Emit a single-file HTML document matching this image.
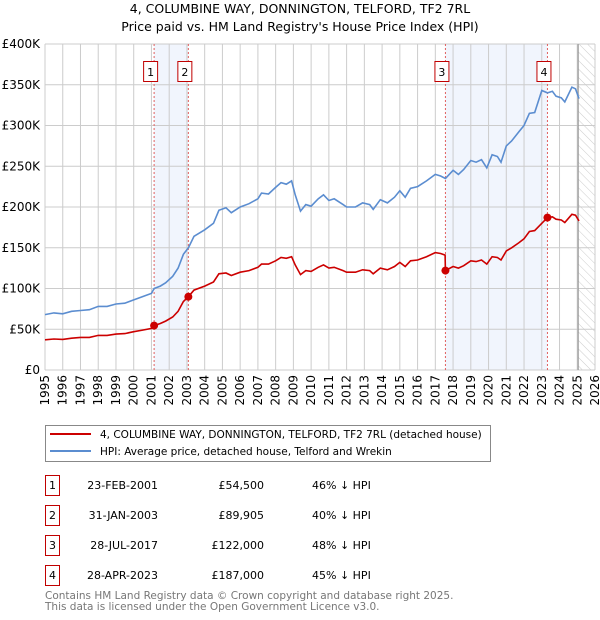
<!DOCTYPE html>
<html><head><meta charset="utf-8"><style>
body{margin:0;background:#fff;}
svg{display:block;font-family:"DejaVu Sans","Liberation Sans",sans-serif;}
</style></head><body>
<svg id="c" width="600" height="620" xmlns="http://www.w3.org/2000/svg">
<defs><pattern id="hatch" width="6" height="6" patternUnits="userSpaceOnUse" patternTransform="rotate(-45)"><line x1="0" y1="0" x2="0" y2="6" stroke="#ccc" stroke-width="1"/></pattern></defs>
<text x="300" y="13" text-anchor="middle" font-size="12.5">4, COLUMBINE WAY, DONNINGTON, TELFORD, TF2 7RL</text>
<text x="300" y="31" text-anchor="middle" font-size="12.5">Price paid vs. HM Land Registry's House Price Index (HPI)</text>
<g id="plot"></g>
<g>
<rect x="45.5" y="425.5" width="445" height="36" fill="#fff" stroke="#888"/>
<line x1="50" y1="434" x2="91" y2="434" stroke="#cc0000" stroke-width="2"/>
<text x="100" y="438" font-size="10.5">4, COLUMBINE WAY, DONNINGTON, TELFORD, TF2 7RL (detached house)</text>
<line x1="50" y1="451" x2="91" y2="451" stroke="#5b8dd0" stroke-width="2"/>
<text x="100" y="455" font-size="10.5">HPI: Average price, detached house, Telford and Wrekin</text>
</g>
<g id="table" font-size="11"></g>
<text x="45" y="599" font-size="10.5" fill="#777">Contains HM Land Registry data © Crown copyright and database right 2025.</text>
<text x="45" y="610" font-size="10.5" fill="#777">This data is licensed under the Open Government Licence v3.0.</text>
</svg>
<script>
const hpiDates=[1995.0,1995.5,1996.0,1996.5,1997.0,1997.5,1998.0,1998.5,1999.0,1999.5,2000.0,2000.5,2001.0,2001.15,2001.5,2001.8,2002.2,2002.5,2002.8,2003.08,2003.4,2004.0,2004.5,2004.8,2005.2,2005.5,2006.0,2006.5,2007.0,2007.2,2007.6,2008.0,2008.3,2008.6,2008.9,2009.1,2009.4,2009.7,2010.0,2010.4,2010.7,2011.0,2011.3,2011.8,2012.0,2012.5,2012.9,2013.3,2013.5,2013.9,2014.3,2014.7,2015.0,2015.3,2015.6,2016.0,2016.5,2017.0,2017.3,2017.57,2018.0,2018.3,2018.6,2019.0,2019.3,2019.6,2019.9,2020.2,2020.5,2020.7,2021.0,2021.3,2021.7,2022.0,2022.3,2022.6,2023.0,2023.32,2023.6,2023.8,2024.1,2024.3,2024.7,2024.9,2025.1];
const hpiValues=[68,70,69,72,73,74,78,78,81,82,86,90,94,100,103,107,115,125,142,150,164,172,180,196,199,193,200,204,210,217,216,224,230,228,232,215,195,203,201,210,215,208,210,203,200,200,205,203,197,209,205,212,220,212,223,225,232,240,238,235,245,240,246,257,255,258,248,264,262,255,275,281,292,300,315,316,343,340,342,336,334,329,347,345,333];
const priceDates=[1995.0,1995.5,1996.0,1996.5,1997.0,1997.5,1998.0,1998.5,1999.0,1999.5,2000.0,2000.5,2001.0,2001.15,2001.5,2001.8,2002.2,2002.5,2002.8,2003.08,2003.4,2004.0,2004.5,2004.8,2005.2,2005.5,2006.0,2006.5,2007.0,2007.2,2007.6,2008.0,2008.3,2008.6,2008.9,2009.1,2009.4,2009.7,2010.0,2010.4,2010.7,2011.0,2011.3,2011.8,2012.0,2012.5,2012.9,2013.3,2013.5,2013.9,2014.3,2014.7,2015.0,2015.3,2015.6,2016.0,2016.5,2017.0,2017.3,2017.55,2017.57,2018.0,2018.3,2018.6,2019.0,2019.3,2019.6,2019.9,2020.2,2020.5,2020.7,2021.0,2021.3,2021.7,2022.0,2022.3,2022.6,2023.0,2023.32,2023.6,2023.8,2024.1,2024.3,2024.7,2024.9,2025.1];
const priceValues=[37,38,37.6,39,40,40,42.5,42.5,44,44.7,47,49,51,54.5,57,60,65,72,84,89.9,98,103,108,118,119,116,120,122,126,130,130,134,138,137,139,129,117,122,121,126,129,125,126,122,120,120,123,122,118,125,123,127,132,127,134,135,139,144,143,141,122,127,125,128,134,133,135,130,139,138,135,146,150,156,161,170,171,180,187,188,185,184,181,191,190,183];
const saleLabels=["1","2","3","4"];
const saleDates=[2001.15,2003.08,2017.57,2023.32];
const salePrices=[54.5,89.905,122,187];
const saleDateText=["23-FEB-2001","31-JAN-2003","28-JUL-2017","28-APR-2023"];
const salePriceText=["£54,500","£89,905","£122,000","£187,000"];
const saleHpiText=["46% ↓ HPI","40% ↓ HPI","48% ↓ HPI","45% ↓ HPI"];
const yTicks=[0,50,100,150,200,250,300,350,400];
const yTickLabels=["£0","£50K","£100K","£150K","£200K","£250K","£300K","£350K","£400K"];
const xYears=[1995,1996,1997,1998,1999,2000,2001,2002,2003,2004,2005,2006,2007,2008,2009,2010,2011,2012,2013,2014,2015,2016,2017,2018,2019,2020,2021,2022,2023,2024,2025,2026];

const NS="http://www.w3.org/2000/svg";
const L=45,R=595,T=44,B=370,x0=1995,x1=2026,yMax=400;
const xs=v=>L+(v-x0)/(x1-x0)*(R-L);
const ys=v=>B-v/yMax*(B-T);
const plot=document.getElementById('plot');
function mk(tag,attrs,parent){const e=document.createElementNS(NS,tag);for(const k in attrs)e.setAttribute(k,attrs[k]);(parent||plot).appendChild(e);return e;}

for(let i=0;i<saleDates.length;i+=2){
  const r=mk('rect',{x:xs(saleDates[i]),y:T,width:xs(saleDates[i+1])-xs(saleDates[i]),height:B-T,fill:'#eef3fc',opacity:0.8});
  
  
}
const hz=mk('rect',{x:xs(2025.05),y:T,width:R-xs(2025.05),height:B-T,fill:'url(#hatch)'});


yTicks.forEach((t,i)=>{
  const g=mk('line',{x1:L,x2:R,y1:ys(t),y2:ys(t),stroke:'#ccc','stroke-width':1});
  
  
  const tx=mk('text',{x:40,y:ys(t)+4,'text-anchor':'end','font-size':12});
  tx.textContent=yTickLabels[i];
  
  
});
xYears.forEach(yr=>{
  const g=mk('line',{x1:xs(yr),x2:xs(yr),y1:T,y2:B,stroke:'#ccc','stroke-width':1});
  
  
  const tx=mk('text',{x:0,y:0,'text-anchor':'end','font-size':12,transform:`translate(${xs(yr)+4},${B+5}) rotate(-90)`});
  tx.textContent=yr;
  
  
});
const now=mk('line',{x1:xs(2025.05),x2:xs(2025.05),y1:T,y2:B,stroke:'#999','stroke-width':1.2});


saleDates.forEach((d,i)=>{
  const l=mk('line',{x1:xs(d),x2:xs(d),y1:T,y2:B,stroke:'#e06060','stroke-width':1,'stroke-dasharray':'2,2'});
  
  
  const b=mk('rect',{x:xs(d)-10.5,y:61.5,width:14,height:20,fill:'#fff',stroke:'#c00000'});
  
  
  const t=mk('text',{x:xs(d)-3.5,y:76,'text-anchor':'middle','font-size':11});
  t.textContent=saleLabels[i];
  
  
});
function pathOf(ds,vs){return ds.map((d,i)=>(i?'L':'M')+xs(d).toFixed(1)+','+ys(vs[i]).toFixed(1)).join('');}
const hp=mk('path',{d:pathOf(hpiDates,hpiValues),fill:'none',stroke:'#5b8dd0','stroke-width':1.6});


const pp=mk('path',{d:pathOf(priceDates,priceValues),fill:'none',stroke:'#cc0000','stroke-width':1.6});


saleDates.forEach((d,i)=>{
  const c=mk('circle',{cx:xs(d),cy:ys(salePrices[i]),r:4,fill:'#cc0000'});
  
  
});
const tb=document.getElementById('table');
saleLabels.forEach((s,i)=>{
  const cy=485+i*30;
  const b=mk('rect',{x:45.5,y:cy-9.5,width:14,height:20,fill:'#fff',stroke:'#c00000'},tb);
  
  
  const t0=mk('text',{x:52.5,y:cy+4,'text-anchor':'middle'},tb);t0.textContent=s;
  
  
  const t1=mk('text',{x:158,y:cy+4,'text-anchor':'end'},tb);t1.textContent=saleDateText[i];
  
  
  const t2=mk('text',{x:264,y:cy+4,'text-anchor':'end'},tb);t2.textContent=salePriceText[i];
  
  
  const t3=mk('text',{x:312,y:cy+4},tb);t3.textContent=saleHpiText[i];
  
  
});
</script>
</body></html>
